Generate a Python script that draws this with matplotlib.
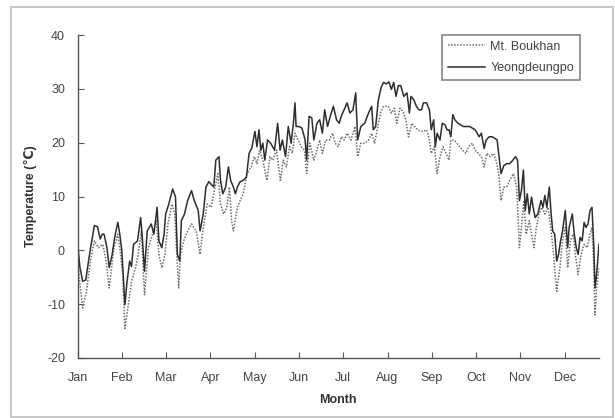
import matplotlib
matplotlib.use("Agg")
import matplotlib.pyplot as plt
from matplotlib.patches import Rectangle

plt.rcParams['font.family'] = ['Liberation Sans', 'DejaVu Sans']

# Daily mean temperature (day of year, deg C)
yd_days = [0.0, 1.6, 3.6, 5.8, 7.7, 9.0, 11.8, 14.0, 15.9, 17.3, 18.6, 20.6, 22.2, 24.1, 26.1,
           28.2, 29.6, 31.0, 33.2, 34.6, 36.5, 37.8, 39.2, 42.0, 44.2, 45.2, 46.9, 48.8, 51.6,
           53.5, 55.7, 57.0, 59.0, 60.6, 61.7, 63.9, 66.6, 68.6, 69.9, 71.6, 72.7, 74.9, 77.1,
           79.8, 81.7, 84.5, 85.8, 88.0, 89.9, 91.9, 95.4, 96.8, 99.0, 100.1, 101.7, 103.7,
           105.6, 107.2, 109.1, 110.5, 111.9, 113.8, 116.0, 118.2, 120.1, 122.0, 124.2, 125.6,
           127.0, 128.3, 129.7, 131.1, 133.0, 135.2, 137.9, 140.1, 141.8, 143.4, 145.6, 147.5,
           149.5, 151.1, 152.2, 153.0, 154.9, 157.1, 159.3, 160.4, 162.1, 164.0, 165.4, 167.6,
           169.5, 171.4, 173.0, 175.0, 176.9, 179.1, 181.3, 183.2, 184.6, 188.7, 190.6, 192.8,
           194.7, 196.1, 198.3, 201.0, 203.7, 205.9, 207.0, 208.7, 210.6, 212.5, 214.2, 216.1,
           218.0, 219.7, 221.3, 222.9, 224.6, 226.2, 228.4, 230.6, 232.3, 233.4, 235.3, 237.2,
           238.9, 240.8, 242.1, 244.3, 246.3, 247.6, 249.3, 250.4, 251.7, 253.7, 255.3, 257.2,
           258.6, 260.0, 261.3, 262.7, 264.1, 266.3, 268.2, 270.1, 272.3, 274.5, 276.4, 278.3,
           281.1, 282.7, 284.6, 286.0, 288.2, 290.1, 292.1, 293.7, 294.8, 296.4, 298.4, 300.3,
           302.5, 304.7, 306.6, 308.0, 309.3, 310.7, 312.1, 313.4, 314.8, 316.2, 317.8, 318.9,
           320.3, 322.2, 324.4, 325.8, 327.1, 328.5, 330.2, 331.5, 332.6, 334.0, 335.4, 336.7,
           338.1, 339.5, 341.4, 343.1, 344.1, 346.3, 347.7, 349.1, 350.4, 351.8, 353.2, 354.6,
           355.9, 357.3, 358.7, 360.1, 361.4, 362.2, 363.3, 365.0]
yd_temp = [1.75, -3.0, -5.75, -5.5, -2.0, 0.2, 4.6, 4.4, 2.1, 3.0, 3.0, 0.5, -3.2, -1.0, 2.5,
           5.2, 3.0, 0.0, -10.1, -6.0, -2.0, -3.0, 1.1, 1.75, 6.1, 3.0, -3.9, 3.6, 4.9,
           3.0, 8.0, 1.75, 0.5, 3.0, 6.75, 8.6, 11.4, 9.9, -0.75, -2.0, 5.5, 6.75, 9.25,
           11.1, 9.25, 7.4, 3.6, 6.75, 11.75, 12.75, 11.75, 16.75, 17.4, 13.0, 10.5, 11.75,
           15.5, 13.0, 11.75, 10.5, 11.75, 12.75, 13.0, 13.6, 18.0, 19.0, 22.1, 19.25,
           22.4, 18.6, 19.9, 16.75, 20.5, 19.9, 18.6, 23.6, 18.6, 20.5, 17.4, 23.0,
           19.9, 23.6, 27.4, 23.0, 23.0, 22.7, 20.5, 16.75, 24.9, 24.6, 20.5, 23.6,
           24.25, 21.75, 26.1, 23.0, 24.9, 26.75, 24.25, 23.6, 24.9, 27.4, 25.5, 26.1,
           29.25, 20.5, 23.0, 23.6, 25.5, 26.75, 22.4, 23.0, 28.0, 30.25, 31.2, 30.9,
           31.3, 29.9, 31.2, 28.6, 30.6, 30.6, 28.6, 29.25, 25.5, 28.6, 28.0, 26.75,
           26.1, 26.1, 27.4, 27.4, 26.1, 22.4, 24.25, 19.25, 21.75, 20.5, 23.6, 23.3,
           22.4, 22.4, 21.1, 25.2, 24.25, 23.6, 23.3, 23.0, 23.0, 23.0, 22.7, 22.4,
           21.1, 21.75, 18.9, 20.5, 21.1, 21.1, 20.8, 20.5, 18.0, 14.25, 15.75, 16.1,
           16.1, 16.75, 17.4, 16.75, 9.25, 11.1, 14.9, 7.4, 10.5, 6.75, 9.9, 8.0,
           6.1, 6.75, 9.25, 8.0, 10.2, 8.0, 11.75, 6.75, 3.6, 3.0, -2.0, -0.75,
           1.75, 3.6, 7.4, 0.5, 4.25, 6.75, 3.0, 0.5, -0.75, 2.4, 1.75, 5.2,
           4.25, 4.9, 7.4, 8.0, 0.5, -7.0, -4.5, 1.1]

mb_days = [0.0, 1.6, 3.6, 6.3, 9.0, 11.8, 14.5, 17.8, 20.0, 22.2, 25.5, 28.2, 29.6, 31.5, 33.2,
           35.9, 37.8, 40.6, 42.5, 44.7, 46.9, 49.6, 52.4, 55.1, 57.0, 59.0, 61.2, 63.3, 66.1,
           68.0, 70.8, 72.1, 74.3, 77.1, 79.8, 83.1, 85.8, 88.0, 90.8, 93.5, 96.3, 98.2, 100.1,
           102.3, 104.5, 106.4, 107.8, 109.1, 111.9, 113.8, 116.0, 118.7, 121.5, 123.7, 125.6,
           127.5, 129.7, 132.5, 134.7, 136.6, 139.3, 142.0, 144.0, 146.2, 148.4, 150.3, 152.2,
           154.4, 156.6, 158.8, 160.4, 162.6, 165.4, 167.6, 169.5, 171.4, 173.6, 176.3, 178.5,
           180.4, 182.4, 184.6, 186.7, 188.7, 191.4, 194.2, 196.1, 198.3, 201.0, 203.7, 205.9,
           207.9, 209.8, 212.0, 214.2, 217.5, 219.7, 221.6, 223.5, 225.7, 227.9, 229.8, 231.7,
           233.9, 236.1, 238.0, 240.0, 242.1, 244.3, 246.3, 247.6, 249.8, 251.7, 253.7, 255.9,
           258.1, 260.0, 261.3, 263.5, 265.5, 267.4, 269.6, 271.8, 273.7, 276.4, 278.3, 280.5,
           282.7, 284.6, 286.6, 288.8, 291.0, 292.9, 294.8, 296.4, 298.4, 300.3, 302.5, 305.2,
           307.4, 309.3, 310.7, 312.4, 314.0, 316.2, 317.8, 319.5, 321.1, 323.0, 325.0, 327.1,
           329.3, 331.2, 333.2, 335.4, 337.6, 339.5, 341.4, 343.1, 345.0, 346.9, 348.5, 350.4,
           352.4, 354.6, 356.8, 358.7, 360.1, 361.4, 362.2, 363.3, 365.0]
mb_temp = [-1.0, -6.0, -10.7, -7.6, -2.0, 1.75, 0.5, 1.1, -2.0, -7.0, 0.5, 3.0, 0.5, -4.0, -14.5,
           -9.5, -5.75, -3.25, -0.75, 3.6, -8.25, 0.5, 3.0, 5.5, -0.75, -3.25, -0.75, 4.9, 8.6,
           6.75, -7.0, -0.75, 1.75, 3.6, 4.9, 3.6, -0.75, 4.25, 8.6, 8.0, 11.75, 14.25, 8.6,
           6.75, 8.0, 11.75, 5.5, 3.6, 8.0, 9.25, 10.5, 14.25, 15.5, 17.4, 16.1,
           18.6, 16.75, 13.0, 17.4, 16.75, 18.6, 13.0, 16.75, 15.5, 19.25, 18.0, 21.75,
           20.5, 19.25, 18.6, 14.25, 19.9, 16.75, 18.6, 20.5, 18.0, 20.5, 20.5, 21.75,
           19.9, 19.25, 21.1, 20.5, 21.75, 20.5, 23.0, 17.4, 19.9, 19.9, 20.5, 21.75,
           19.9, 22.4, 25.5, 26.75, 26.75, 25.5, 26.4, 23.6, 26.4, 25.75, 24.25, 21.1,
           23.6, 23.0, 22.4, 22.1, 22.1, 22.4, 20.5, 18.0, 19.25, 14.25, 17.4, 19.25,
           18.0, 16.75, 20.5, 20.5, 19.9, 19.25, 18.6, 18.0, 19.25, 19.9, 18.6, 18.0,
           17.4, 15.5, 18.0, 17.4, 18.0, 16.75, 14.25, 9.25, 11.75, 11.75, 13.0, 14.25,
           11.75, 0.5, 4.25, 9.25, 3.0, 5.5, 3.0, 0.5, 4.25, 6.75, 8.0, 6.75,
           8.0, 4.25, -0.75, -7.6, -3.25, 1.75, 4.25, -3.25, 1.75, 3.0, -0.75, -4.5,
           -0.75, 1.1, 0.5, 3.0, 4.25, -3.25, -12.0, -7.0, -3.25]

month_labels = ['Jan', 'Feb', 'Mar', 'Apr', 'May', 'Jun',
                'Jul', 'Aug', 'Sep', 'Oct', 'Nov', 'Dec']
tick_step = 31
y_ticks = [-20, -10, 0, 10, 20, 30, 40]

fig = plt.figure(figsize=(6.15, 4.18), dpi=100)
fig.patch.set_facecolor('white')

# chart-area frame
fig.patches.append(Rectangle((11 / 615, 1 / 418), 602 / 615, 410 / 418,
                             transform=fig.transFigure, fill=False,
                             edgecolor='#c8c8c8', linewidth=1.5))

ax = fig.add_axes([77.5 / 615, 1 - 358 / 418, (599 - 77.5) / 615, (358 - 35) / 418])

ax.plot(mb_days, mb_temp, color='#6e6e6e', linestyle=(0, (1, 1)), linewidth=1.1,
        label='Mt. Boukhan')
ax.plot(yd_days, yd_temp, color='#2e2e2e', linestyle='-', linewidth=1.1,
        label='Yeongdeungpo')

ax.set_xlim(0, 365)
ax.set_ylim(-20, 40)
ax.set_xticks([i * tick_step for i in range(len(month_labels))])
ax.set_xticklabels(month_labels)
ax.set_yticks(y_ticks)
ax.set_yticklabels([str(v) for v in y_ticks])

for side in ('top', 'right'):
    ax.spines[side].set_visible(False)
for side in ('left', 'bottom'):
    ax.spines[side].set_color('#555555')
    ax.spines[side].set_linewidth(1.0)

ax.tick_params(axis='both', direction='in', length=4, width=0.8, colors='#555555',
               labelcolor='#444444', labelsize=9)
ax.tick_params(axis='x', pad=10)
ax.tick_params(axis='y', pad=9)

ax.set_xlabel('Month', fontsize=9, fontweight='bold', color='#333333', labelpad=7)
ax.set_ylabel('Temperature (\u2103)', fontsize=9, fontweight='bold', color='#333333',
              labelpad=7)

leg = ax.legend(loc='upper right', bbox_to_anchor=(0.963, 1.0), frameon=True,
                fancybox=False, fontsize=9, handlelength=3.0, borderpad=0.45,
                labelspacing=0.75, handletextpad=0.4, borderaxespad=0.0)
leg.get_frame().set_edgecolor('#666666')
leg.get_frame().set_linewidth(1.2)
for t in leg.get_texts():
    t.set_color('#444444')

fig.savefig('out.png', dpi=100, facecolor='white')
